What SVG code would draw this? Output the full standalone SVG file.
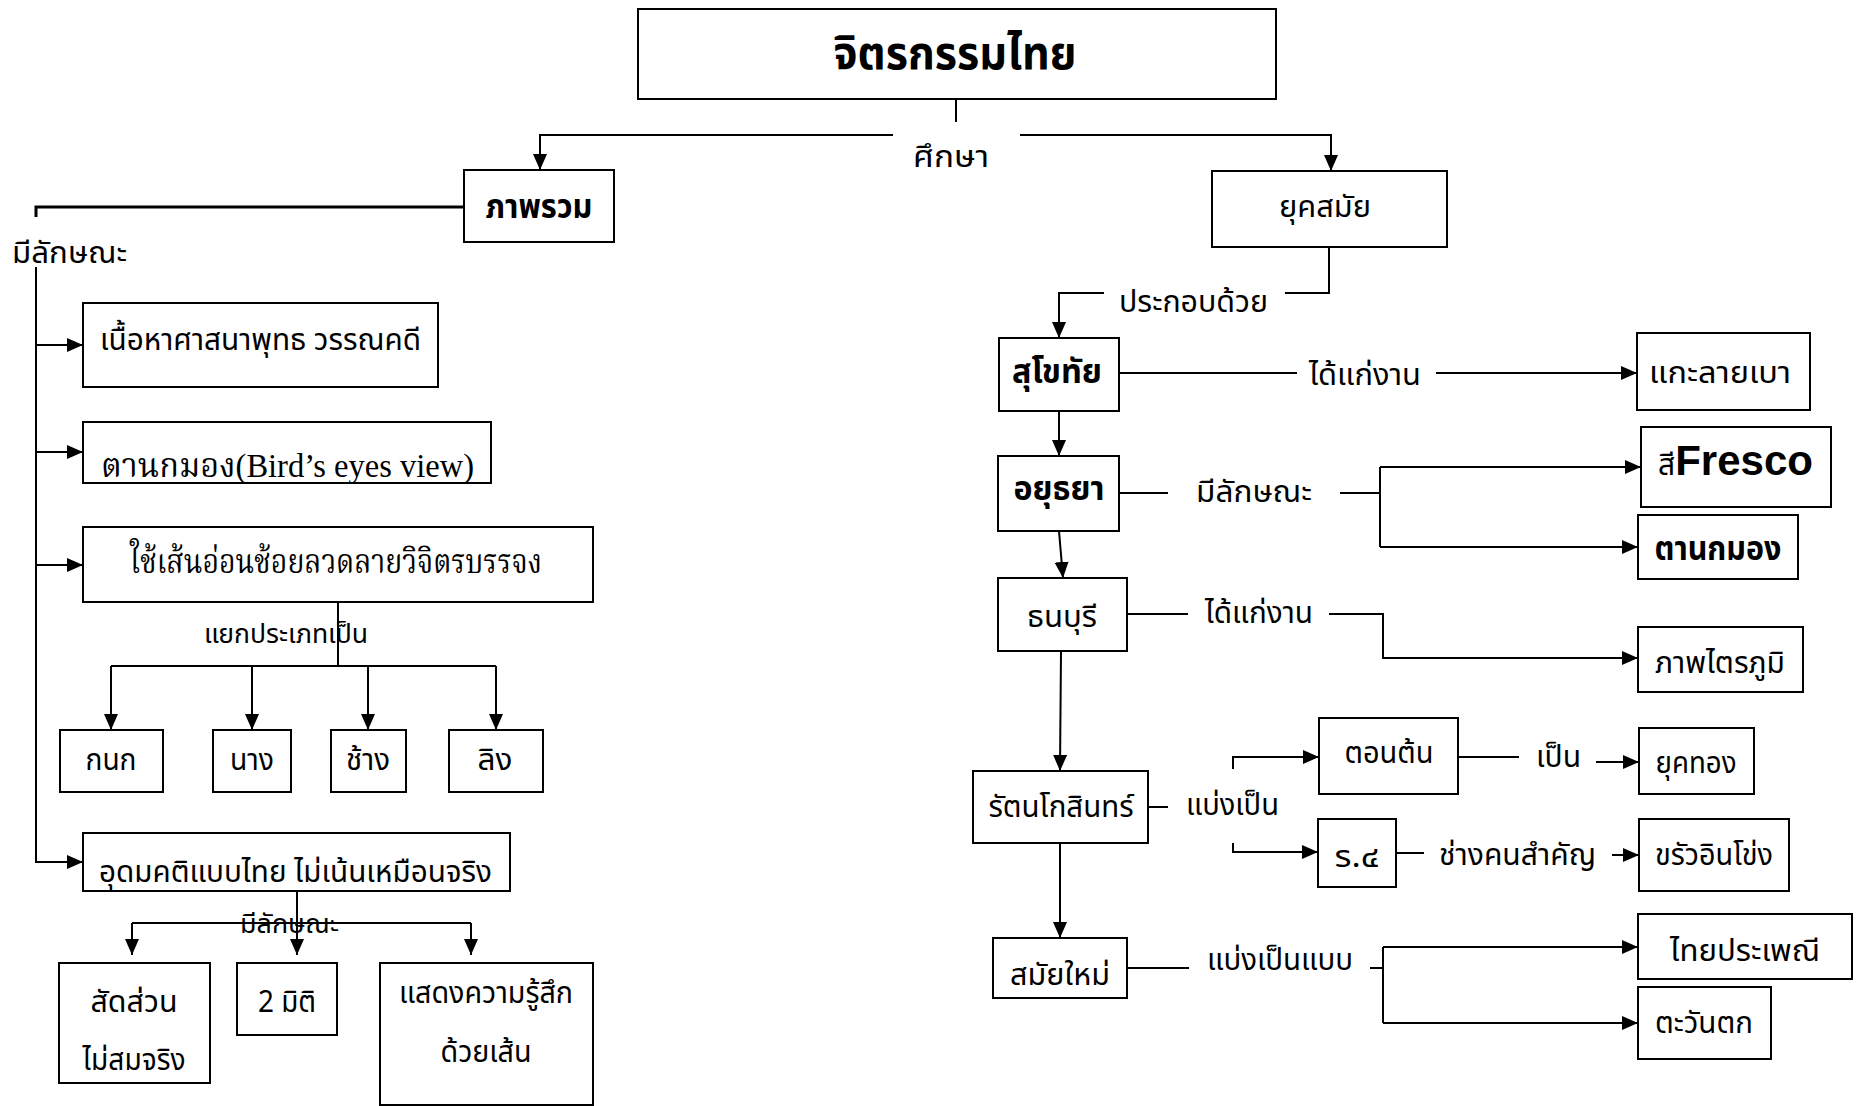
<svg xmlns="http://www.w3.org/2000/svg" width="1858" height="1106" viewBox="0 0 1858 1106">
<style>
.box{fill:#fff;stroke:#000;stroke-width:2}
.ln{fill:none;stroke:#000;stroke-width:2}
.t{font-family:"Noto Sans Thai","Noto Sans","Liberation Sans",sans-serif;font-size:30px;fill:#000}
.b{font-weight:bold;font-size:33px}
.s{font-family:"Liberation Serif","Noto Serif Thai","Noto Sans Thai",serif;font-size:34px;fill:#000}
.m{text-anchor:middle}
</style>
<defs>
<marker id="ah" markerUnits="userSpaceOnUse" markerWidth="16" markerHeight="14" refX="16" refY="7" orient="auto">
<path d="M0,0 L16,7 L0,14 Z" fill="#000"/>
</marker>
</defs>
<rect width="1858" height="1106" fill="#fff"/>
<g id="connectors">
<path class="ln" d="M956,99 V122"/>
<path class="ln" d="M893,135 H540 V170" marker-end="url(#ah)"/>
<path class="ln" d="M1020,135 H1331 V171" marker-end="url(#ah)"/>
<path class="ln" d="M464,207 H36 V217" style="stroke-width:3"/>
<path class="ln" d="M36,267 V862 H83" marker-end="url(#ah)"/>
<path class="ln" d="M36,345 H83" marker-end="url(#ah)"/>
<path class="ln" d="M36,452 H83" marker-end="url(#ah)"/>
<path class="ln" d="M36,565 H83" marker-end="url(#ah)"/>
<path class="ln" d="M338,602 V666 M111,666 H496"/>
<path class="ln" d="M111,666 V730" marker-end="url(#ah)"/>
<path class="ln" d="M252,666 V730" marker-end="url(#ah)"/>
<path class="ln" d="M368,666 V730" marker-end="url(#ah)"/>
<path class="ln" d="M496,666 V730" marker-end="url(#ah)"/>
<path class="ln" d="M297,891 V955" marker-end="url(#ah)"/>
<path class="ln" d="M132,923 H471"/>
<path class="ln" d="M132,923 V955" marker-end="url(#ah)"/>
<path class="ln" d="M471,923 V955" marker-end="url(#ah)"/>
<path class="ln" d="M1329,247 V293 H1285"/>
<path class="ln" d="M1104,293 H1059 V338" marker-end="url(#ah)"/>
<path class="ln" d="M1119,373 H1297"/>
<path class="ln" d="M1436,373 H1637" marker-end="url(#ah)"/>
<path class="ln" d="M1059,411 V456" marker-end="url(#ah)"/>
<path class="ln" d="M1119,493 H1168 M1340,493 H1380 M1380,467 V547"/>
<path class="ln" d="M1380,467 H1641" marker-end="url(#ah)"/>
<path class="ln" d="M1380,547 H1638" marker-end="url(#ah)"/>
<path class="ln" d="M1059,531 L1063,578" marker-end="url(#ah)"/>
<path class="ln" d="M1127,614 H1188"/>
<path class="ln" d="M1329,614 H1383 V658 H1638" marker-end="url(#ah)"/>
<path class="ln" d="M1061,651 L1060,771" marker-end="url(#ah)"/>
<path class="ln" d="M1148,807 H1168"/>
<path class="ln" d="M1233,769 V757 H1319" marker-end="url(#ah)"/>
<path class="ln" d="M1233,843 V852 H1318" marker-end="url(#ah)"/>
<path class="ln" d="M1458,757 H1519"/>
<path class="ln" d="M1596,762 H1639" marker-end="url(#ah)"/>
<path class="ln" d="M1396,853 H1424"/>
<path class="ln" d="M1612,855 H1639" marker-end="url(#ah)"/>
<path class="ln" d="M1060,843 V938" marker-end="url(#ah)"/>
<path class="ln" d="M1127,968 H1189 M1370,968 H1383 M1383,947 V1023"/>
<path class="ln" d="M1383,947 H1638" marker-end="url(#ah)"/>
<path class="ln" d="M1383,1023 H1638" marker-end="url(#ah)"/>
</g>
<g id="labels">
<text class="t m" x="951" y="167" textLength="76" lengthAdjust="spacingAndGlyphs">ศึกษา</text>
<text class="t" x="12" y="263" textLength="115" lengthAdjust="spacingAndGlyphs">มีลักษณะ</text>
<text class="t" x="204" y="643" textLength="164" lengthAdjust="spacingAndGlyphs" style="font-size:26px">แยกประเภทเป็น</text>
<text class="t" x="240" y="933" textLength="99" lengthAdjust="spacingAndGlyphs" style="font-size:26px">มีลักษณะ</text>
<text class="t" x="1119" y="312" textLength="149" lengthAdjust="spacingAndGlyphs">ประกอบด้วย</text>
<text class="t" x="1309" y="385" textLength="112" lengthAdjust="spacingAndGlyphs">ได้แก่งาน</text>
<text class="t" x="1196" y="502" textLength="116" lengthAdjust="spacingAndGlyphs">มีลักษณะ</text>
<text class="t" x="1205" y="623" textLength="108" lengthAdjust="spacingAndGlyphs">ได้แก่งาน</text>
<text class="t" x="1186" y="815" textLength="93" lengthAdjust="spacingAndGlyphs">แบ่งเป็น</text>
<text class="t" x="1536" y="767" textLength="45" lengthAdjust="spacingAndGlyphs">เป็น</text>
<text class="t" x="1439" y="865" textLength="157" lengthAdjust="spacingAndGlyphs">ช่างคนสำคัญ</text>
<text class="t" x="1207" y="970" textLength="146" lengthAdjust="spacingAndGlyphs">แบ่งเป็นแบบ</text>
</g>
<g id="n-title"><rect class="box" x="638" y="9" width="638" height="90"/><text class="t b m" x="955" y="69" style="font-size:46px" textLength="243" lengthAdjust="spacingAndGlyphs">จิตรกรรมไทย</text></g>
<g id="n-overall"><rect class="box" x="464" y="170" width="150" height="72"/><text class="t b m" x="539" y="218" textLength="107" lengthAdjust="spacingAndGlyphs">ภาพรวม</text></g>
<g id="n-era"><rect class="box" x="1212" y="171" width="235" height="76"/><text class="t m" x="1325" y="217" textLength="92" lengthAdjust="spacingAndGlyphs">ยุคสมัย</text></g>
<g id="n-content"><rect class="box" x="83" y="303" width="355" height="84"/><text class="t" x="100" y="350" textLength="321" lengthAdjust="spacingAndGlyphs">เนื้อหาศาสนาพุทธ วรรณคดี</text></g>
<g id="n-birdeye"><rect class="box" x="83" y="422" width="408" height="61"/><text class="s" x="101" y="477" textLength="373" lengthAdjust="spacingAndGlyphs">ตานกมอง(Bird’s eyes view)</text></g>
<g id="n-line"><rect class="box" x="83" y="527" width="510" height="75"/><text class="s" x="130" y="573" textLength="412" lengthAdjust="spacingAndGlyphs">ใช้เส้นอ่อนช้อยลวดลายวิจิตรบรรจง</text></g>
<g id="n-kanok"><rect class="box" x="60" y="730" width="103" height="62"/><text class="t m" x="111" y="770" textLength="51" lengthAdjust="spacingAndGlyphs">กนก</text></g>
<g id="n-nang"><rect class="box" x="213" y="730" width="78" height="62"/><text class="t m" x="252" y="770" textLength="44" lengthAdjust="spacingAndGlyphs">นาง</text></g>
<g id="n-chang"><rect class="box" x="331" y="730" width="75" height="62"/><text class="t m" x="368" y="770" textLength="44" lengthAdjust="spacingAndGlyphs">ช้าง</text></g>
<g id="n-ling"><rect class="box" x="449" y="730" width="94" height="62"/><text class="t m" x="495" y="770" textLength="35" lengthAdjust="spacingAndGlyphs">ลิง</text></g>
<g id="n-ideal"><rect class="box" x="83" y="833" width="427" height="58"/><text class="t" x="99" y="882" textLength="393" lengthAdjust="spacingAndGlyphs">อุดมคติแบบไทย ไม่เน้นเหมือนจริง</text></g>
<g id="n-prop"><rect class="box" x="59" y="963" width="151" height="120"/><text class="t m" x="134" y="1012" textLength="87" lengthAdjust="spacingAndGlyphs">สัดส่วน</text><text class="t m" x="134" y="1070" textLength="103" lengthAdjust="spacingAndGlyphs">ไม่สมจริง</text></g>
<g id="n-2d"><rect class="box" x="237" y="963" width="100" height="72"/><text class="t m" x="287" y="1012" textLength="58" lengthAdjust="spacingAndGlyphs">2 มิติ</text></g>
<g id="n-feel"><rect class="box" x="380" y="963" width="213" height="142"/><text class="t m" x="486" y="1003" textLength="174" lengthAdjust="spacingAndGlyphs">แสดงความรู้สึก</text><text class="t m" x="486" y="1062" textLength="91" lengthAdjust="spacingAndGlyphs">ด้วยเส้น</text></g>
<g id="n-sukhothai"><rect class="box" x="999" y="338" width="120" height="73"/><text class="t b m" x="1057" y="383" textLength="90" lengthAdjust="spacingAndGlyphs">สุโขทัย</text></g>
<g id="n-lowrelief"><rect class="box" x="1637" y="333" width="173" height="77"/><text class="t m" x="1720" y="383" textLength="142" lengthAdjust="spacingAndGlyphs">แกะลายเบา</text></g>
<g id="n-ayutthaya"><rect class="box" x="998" y="456" width="121" height="75"/><text class="t b m" x="1059" y="500" textLength="91" lengthAdjust="spacingAndGlyphs">อยุธยา</text></g>
<g id="n-fresco"><rect class="box" x="1641" y="427" width="190" height="80"/><text class="t" x="1658" y="475"><tspan>สี</tspan><tspan style="font-family:'Liberation Sans',Arial,sans-serif;font-weight:bold;font-size:42px">Fresco</tspan></text></g>
<g id="n-birdeye2"><rect class="box" x="1638" y="515" width="160" height="64"/><text class="t b m" x="1718" y="560" textLength="127" lengthAdjust="spacingAndGlyphs">ตานกมอง</text></g>
<g id="n-thonburi"><rect class="box" x="998" y="578" width="129" height="73"/><text class="t m" x="1062" y="627" textLength="70" lengthAdjust="spacingAndGlyphs">ธนบุรี</text></g>
<g id="n-traiphum"><rect class="box" x="1638" y="627" width="165" height="65"/><text class="t m" x="1720" y="673" textLength="130" lengthAdjust="spacingAndGlyphs">ภาพไตรภูมิ</text></g>
<g id="n-rattanakosin"><rect class="box" x="973" y="771" width="175" height="72"/><text class="t m" x="1061" y="817" textLength="145" lengthAdjust="spacingAndGlyphs">รัตนโกสินทร์</text></g>
<g id="n-early"><rect class="box" x="1319" y="718" width="139" height="76"/><text class="t m" x="1389" y="763" textLength="89" lengthAdjust="spacingAndGlyphs">ตอนต้น</text></g>
<g id="n-golden"><rect class="box" x="1639" y="728" width="115" height="66"/><text class="t m" x="1696" y="773" textLength="81" lengthAdjust="spacingAndGlyphs">ยุคทอง</text></g>
<g id="n-r4"><rect class="box" x="1318" y="819" width="78" height="68"/><text class="t m" x="1357" y="867" textLength="45" lengthAdjust="spacingAndGlyphs">ร.๔</text></g>
<g id="n-khrua"><rect class="box" x="1639" y="819" width="150" height="72"/><text class="t m" x="1714" y="865" textLength="118" lengthAdjust="spacingAndGlyphs">ขรัวอินโข่ง</text></g>
<g id="n-modern"><rect class="box" x="993" y="938" width="134" height="60"/><text class="t m" x="1060" y="985" textLength="100" lengthAdjust="spacingAndGlyphs">สมัยใหม่</text></g>
<g id="n-traditional"><rect class="box" x="1638" y="914" width="214" height="65"/><text class="t m" x="1745" y="961" textLength="150" lengthAdjust="spacingAndGlyphs">ไทยประเพณี</text></g>
<g id="n-western"><rect class="box" x="1638" y="987" width="133" height="72"/><text class="t m" x="1704" y="1033" textLength="98" lengthAdjust="spacingAndGlyphs">ตะวันตก</text></g>
</svg>
